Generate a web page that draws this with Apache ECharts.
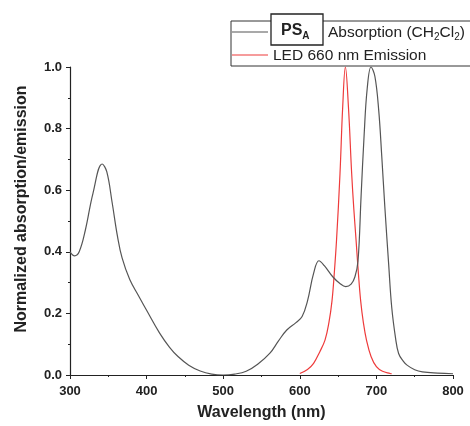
<!DOCTYPE html>
<html>
<head>
<meta charset="utf-8">
<script src="https://cdn.jsdelivr.net/npm/echarts@6/dist/echarts.min.js"></script>
<style>
  html, body { margin: 0; padding: 0; background: #fff; }
  #chart { width: 470px; height: 426px; }
</style>
</head>
<body>
<div id="chart"></div>
<script>
// 吸收光谱 (CH2Cl2), [波长 nm, 归一化值]
var absorption = [
  [300, 0.40], [306, 0.387], [312, 0.40], [320, 0.47], [330, 0.59], [342, 0.685],
  [348, 0.66], [355, 0.56], [362, 0.45], [368, 0.38], [378, 0.31], [390, 0.255],
  [400, 0.21], [417, 0.136], [430, 0.09], [441, 0.06], [455, 0.032], [470, 0.013],
  [485, 0.003], [500, 0.0], [515, 0.003], [530, 0.012], [545, 0.035], [561, 0.071],
  [572, 0.11], [583, 0.146], [595, 0.17], [603, 0.19], [610, 0.24], [618, 0.33],
  [625, 0.371], [632, 0.355], [643, 0.319], [652, 0.298], [660, 0.287], [667, 0.295],
  [672, 0.319], [676, 0.37], [680, 0.58], [684, 0.78], [688, 0.93], [693, 1.0],
  [698, 0.97], [703, 0.86], [707, 0.71], [711, 0.546], [716, 0.36], [720, 0.22],
  [725, 0.12], [729, 0.07], [735, 0.045], [740, 0.032], [750, 0.017], [760, 0.01],
  [780, 0.006], [800, 0.004]
]
// LED 660 nm 发射光谱
var emission = [
  [600, 0.005], [610, 0.018], [618, 0.038], [626, 0.075], [633, 0.114], [638, 0.17],
  [642, 0.24], [645, 0.33], [648, 0.44], [652.5, 0.655], [656, 0.87], [659.5, 1.0],
  [663.5, 0.87], [667.7, 0.655], [670.5, 0.54], [673.4, 0.44], [676.5, 0.33],
  [679.5, 0.24], [683, 0.17], [687, 0.114], [693, 0.06], [700, 0.027], [708, 0.012],
  [718, 0.005], [720, 0.004]
]
var xTicks = [300, 400, 500, 600, 700, 800]
var yTicks = [0.0, 0.2, 0.4, 0.6, 0.8, 1.0]

var font = 'Liberation Sans, Arial, sans-serif'
var chart = echarts.init(document.getElementById('chart'))
var option = {
  animation: false,
  grid: { left: 70, right: 17, top: 67, bottom: 51 },
  xAxis: {
    type: 'value',
    min: xTicks[0],
    max: xTicks[xTicks.length - 1],
    interval: 100,
    name: 'Wavelength (nm)',
    nameLocation: 'middle',
    nameGap: 30,
    nameTextStyle: { fontFamily: font, fontWeight: 'bold', fontSize: 16, color: '#222' },
    axisLine: { lineStyle: { color: '#222', width: 1.2 } },
    axisTick: { inside: false, length: 4, lineStyle: { color: '#222' } },
    minorTick: { show: true, splitNumber: 2, length: 2, lineStyle: { color: '#222' } },
    axisLabel: { fontFamily: font, fontWeight: 'bold', fontSize: 13, color: '#222', margin: 10 },
    splitLine: { show: false }
  },
  yAxis: {
    type: 'value',
    min: yTicks[0],
    max: yTicks[yTicks.length - 1],
    interval: 0.2,
    name: 'Normalized absorption/emission',
    nameLocation: 'middle',
    nameGap: 40,
    nameTextStyle: {
      fontFamily: font, fontWeight: 'bold', fontSize: 16, color: '#222',
      padding: [0, 0, 0, 24]
    },
    axisLine: { show: true, lineStyle: { color: '#222', width: 1.2 } },
    axisTick: { show: true, length: 4, lineStyle: { color: '#222' } },
    minorTick: { show: true, splitNumber: 2, length: 2, lineStyle: { color: '#222' } },
    axisLabel: {
      fontFamily: font, fontWeight: 'bold', fontSize: 13, color: '#222', margin: 8,
      formatter: function (v) { return v.toFixed(1) }
    },
    splitLine: { show: false }
  },
  series: [
    {
      name: 'Absorption',
      type: 'line',
      data: absorption,
      smooth: 0.4,
      showSymbol: false,
      lineStyle: { color: '#555', width: 1.2 },
      z: 3
    },
    {
      name: 'Emission',
      type: 'line',
      data: emission,
      smooth: 0.4,
      showSymbol: false,
      lineStyle: { color: '#ee3b3b', width: 1.2 },
      z: 2
    }
  ],
  // 图例框
  graphic: [
    { type: 'rect', shape: { x: 231, y: 21, width: 250, height: 45 },
      style: { fill: '#fff', stroke: '#333', lineWidth: 1 }, z: 10 },
    { type: 'line', shape: { x1: 232, y1: 32, x2: 268, y2: 32 },
      style: { stroke: '#555', lineWidth: 1.2 }, z: 11 },
    { type: 'line', shape: { x1: 232, y1: 55, x2: 268, y2: 55 },
      style: { stroke: '#ee3b3b', lineWidth: 1.2 }, z: 11 },
    { type: 'rect', shape: { x: 271, y: 14, width: 52, height: 31 },
      style: { fill: '#fff', stroke: '#222', lineWidth: 1.3 }, z: 11 },
    { type: 'text', x: 281, y: 31, z: 12,
      style: {
        text: '{b|PS}{bs|A}', verticalAlign: 'middle',
        rich: {
          b: { fontFamily: font, fontWeight: 'bold', fontSize: 16, fill: '#222' },
          bs: { fontFamily: font, fontWeight: 'bold', fontSize: 10, fill: '#222', padding: [10, 0, 0, 0] }
        }
      } },
    { type: 'text', x: 328, y: 33, z: 12,
      style: {
        text: '{t|Absorption (CH}{s|2}{t|Cl}{s|2}{t|)}', verticalAlign: 'middle',
        rich: {
          t: { fontFamily: font, fontSize: 15.5, fill: '#222' },
          s: { fontFamily: font, fontSize: 10, fill: '#222', padding: [9, 0, 0, 0] }
        }
      } },
    { type: 'text', x: 273, y: 56, z: 12,
      style: { text: 'LED 660 nm Emission', fontFamily: font, fontSize: 15.5, fill: '#222', verticalAlign: 'middle' } }
  ]
}
chart.setOption(option)
</script>
</body>
</html>
